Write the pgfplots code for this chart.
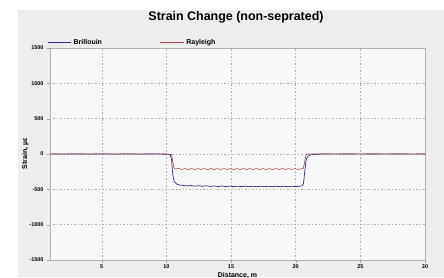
\documentclass[border=0pt]{standalone}
\usepackage{fontspec}
\setmainfont{Liberation Sans}
\usepackage{pgfplots}
\pgfplotsset{compat=1.18}
\definecolor{bri}{HTML}{2E2E80}
\definecolor{ray}{HTML}{A84444}
\definecolor{panel}{HTML}{EDEDED}
\definecolor{plotbg}{HTML}{F7F7F7}
\definecolor{gridc}{HTML}{B0B0B0}
\begin{document}
\begin{tikzpicture}[x=1bp,y=1bp]
\useasboundingbox (0,0) rectangle (444,277);
\fill[white] (0,0) rectangle (444,277);
\fill[panel] (18,0) rectangle (444,267);
\node[font=\bfseries\fontsize{12.5}{13}\selectfont] at (236,260) {Strain Change (non-seprated)};
\begin{axis}[
  at={(50bp,17bp)}, anchor=south west,
  scale only axis, width=375bp, height=212bp,
  xmin=1, xmax=30, ymin=-1500, ymax=1500,
  xtick={5,10,15,20,25,30},
  ytick={-1500,-1000,-500,0,500,1000,1500},
  axis background/.style={fill=plotbg},
  axis line style={draw=gray!60},
  grid=major,
  major grid style={draw=gridc, dash pattern=on 1.5pt off 2pt, line width=0.4pt},
  tick style={draw=gray!70},
  ytick pos=left, xtick pos=bottom,
  tick align=outside,
  major tick length=3bp,
  xticklabel style={font=\fontsize{5.5}{6}\selectfont\bfseries, yshift=1.5bp},
  yticklabel style={font=\fontsize{5.5}{6}\selectfont\bfseries},
  /pgf/number format/assume math mode=true,
  scaled ticks=false,
  /pgf/number format/1000 sep={},
  xlabel={Distance, m},
  xlabel style={font=\fontsize{7}{8}\selectfont\bfseries, at={(axis description cs:0.5,0)}, anchor=north, yshift=-8.5bp},
  ylabel={Strain, µε},
  ylabel style={font=\fontsize{7}{8}\selectfont\bfseries, yshift=-6bp},
  legend columns=2,
  legend style={at={(0,1)}, anchor=south west, draw=none, fill=none,
    font=\fontsize{7}{8}\selectfont\bfseries, yshift=-2bp, xshift=-6bp},
  legend cell align=left,
  /tikz/every even column/.append style={column sep=56bp},
  legend image post style={xscale=1.4},
]
\addplot[bri, line width=0.7pt] coordinates {
(1,0)(2,-2)(3,0)(4,-2)(5,0)(6,-2)(7,0)(8,-2)(9,0)(10,-3)(10.3,-10)(10.4,-80)(10.5,-300)(10.6,-390)(10.8,-425)(11,-438)(11.3,-445)(11.6,-452)(11.9,-446)(12.2,-455)(12.5,-448)(12.8,-457)(13.1,-450)(13.4,-459)(13.7,-451)(14,-460)(14.3,-452)(14.6,-461)(14.9,-453)(15.2,-462)(15.5,-454)(15.8,-462)(16.1,-454)(16.4,-463)(16.7,-455)(17,-463)(17.3,-455)(17.6,-463)(17.9,-455)(18.2,-463)(18.5,-455)(18.8,-463)(19.1,-455)(19.4,-463)(19.7,-455)(20,-462)(20.3,-455)(20.5,-450)(20.6,-420)(20.7,-250)(20.8,-90)(20.9,-40)(21.1,-15)(21.5,-5)(22,0)(23,-2)(24,0)(25,-2)(26,0)(27,-2)(28,0)(29,-2)(30,0)
};
\addlegendentry{Brillouin}
\addplot[ray, line width=0.6pt] coordinates {
(1,2)(2,0)(3,2)(4,0)(5,2)(6,0)(7,2)(8,0)(9,2)(10,0)(10.4,-5)(10.5,-120)(10.6,-200)(10.7,-212)(10.95,-205)(11.2,-218)(11.45,-206)(11.7,-219)(11.95,-206)(12.2,-219)(12.45,-206)(12.7,-219)(12.95,-206)(13.2,-219)(13.45,-206)(13.7,-219)(13.95,-206)(14.2,-219)(14.45,-206)(14.7,-219)(14.95,-206)(15.2,-219)(15.45,-206)(15.7,-219)(15.95,-206)(16.2,-219)(16.45,-206)(16.7,-219)(16.95,-206)(17.2,-219)(17.45,-206)(17.7,-219)(17.95,-206)(18.2,-219)(18.45,-206)(18.7,-219)(18.95,-206)(19.2,-219)(19.45,-206)(19.7,-219)(19.95,-206)(20.2,-219)(20.45,-208)(20.6,-200)(20.7,-100)(20.8,-10)(21,2)(22,0)(23,2)(24,0)(25,2)(26,0)(27,2)(28,0)(29,2)(30,0)
};
\addlegendentry{Rayleigh}
\end{axis}
\end{tikzpicture}
\end{document}
